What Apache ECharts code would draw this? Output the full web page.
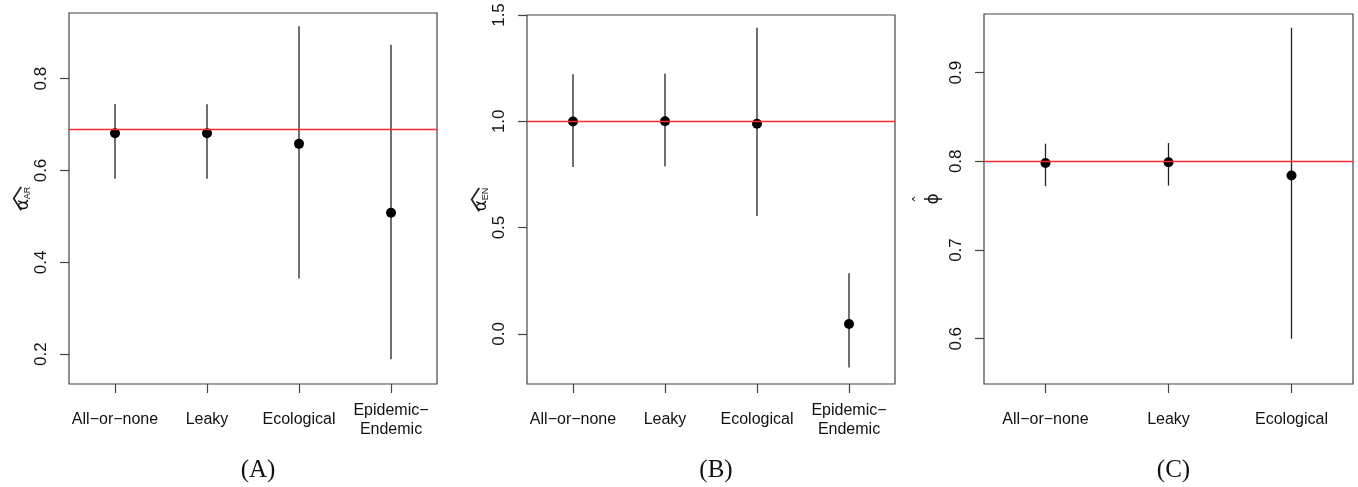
<!DOCTYPE html>
<html>
<head>
<meta charset="utf-8">
<script src="https://cdn.jsdelivr.net/npm/echarts@6/dist/echarts.min.js"></script>
<style>
  html, body { margin: 0; padding: 0; background: #fff; }
  #main { width: 1358px; height: 487px; }
</style>
</head>
<body>
<div id="main"></div>
<script>
// panel A: alpha_AR
var catsA = ['All\u2212or\u2212none', 'Leaky', 'Ecological', 'Epidemic\u2212\nEndemic'];
var estA = [0.681, 0.681, 0.658, 0.508];
var lowA = [0.582, 0.582, 0.365, 0.189];
var highA = [0.745, 0.744, 0.914, 0.874];
var trueA = 0.693;
var ticksA = [0.2, 0.4, 0.6, 0.8];

// panel B: alpha_EN
var catsB = ['All\u2212or\u2212none', 'Leaky', 'Ecological', 'Epidemic\u2212\nEndemic'];
var estB = [0.999, 1.0, 0.988, 0.046];
var lowB = [0.785, 0.788, 0.554, -0.158];
var highB = [1.221, 1.224, 1.44, 0.285];
var trueB = 1.0;
var ticksB = [0.0, 0.5, 1.0, 1.5];

// panel C: phi
var catsC = ['All\u2212or\u2212none', 'Leaky', 'Ecological'];
var estC = [0.798, 0.799, 0.784];
var lowC = [0.772, 0.7726, 0.6];
var highC = [0.8198, 0.8206, 0.9506];
var trueC = 0.8;
var ticksC = [0.6, 0.7, 0.8, 0.9];

var chart = echarts.init(document.getElementById('main'));

var FONT = '"Liberation Sans", Arial, sans-serif';
var INK = '#222';

var grids = [
  { left: 69, right: 921, top: 13, bottom: 103 },
  { left: 527, right: 463, top: 15, bottom: 103 },
  { left: 984, right: 5, top: 14, bottom: 103 }
];

var panels = [
  { cats: catsA, est: estA, low: lowA, high: highA, ref: trueA, ticks: ticksA, min: 0.135, max: 0.943,
    name: '{h|\ufe3f}\n{a|\u03b1}{s|AR}', nameGap: 34 },
  { cats: catsB, est: estB, low: lowB, high: highB, ref: trueB, ticks: ticksB, min: -0.236, max: 1.5,
    name: '{h|\ufe3f}\n{a|\u03b1}{s|EN}', nameGap: 30 },
  { cats: catsC, est: estC, low: lowC, high: highC, ref: trueC, ticks: ticksC, min: 0.549, max: 0.966,
    name: '{k|\u02c6}\n{a|\u03d5}', nameGap: 42 }
];

function errorBar(params, api) {
  var i = api.value(0);
  var p1 = api.coord([i, api.value(1)]);
  var p2 = api.coord([i, api.value(2)]);
  return {
    type: 'line',
    shape: { x1: p1[0], y1: p1[1], x2: p2[0], y2: p2[1] },
    style: { stroke: INK, lineWidth: 1.3 }
  };
}

var xAxes = [], yAxes = [], series = [], titles = [];
panels.forEach(function (p, k) {
  xAxes.push({
    type: 'category',
    gridIndex: k,
    data: p.cats,
    boundaryGap: true,
    axisLine: { show: false, onZero: false },
    axisTick: { show: true, alignWithLabel: true, length: 9, inside: false, lineStyle: { color: '#444', width: 1.2 } },
    axisLabel: { color: '#111', fontFamily: FONT, fontSize: 16, margin: 36, verticalAlign: 'middle', lineHeight: 19, interval: 0 },
    splitLine: { show: false }
  });
  yAxes.push({
    type: 'value',
    gridIndex: k,
    min: p.min,
    max: p.max,
    axisLine: { show: false, onZero: false },
    axisTick: { show: true, length: 9, customValues: p.ticks, lineStyle: { color: '#444', width: 1.2 } },
    axisLabel: {
      customValues: p.ticks,
      rotate: 90,
      margin: 19,
      color: '#111',
      fontFamily: FONT,
      fontSize: 17,
      formatter: function (v) { return Number(v).toFixed(1); }
    },
    splitLine: { show: false },
    name: p.name,
    nameLocation: 'middle',
    nameGap: p.nameGap,
    nameRotate: 90,
    nameTextStyle: {
      align: 'center',
      rich: {
        h: { fontSize: 26, lineHeight: 9, color: '#222', fontFamily: '"Noto Sans CJK SC", "DejaVu Sans"', align: 'center' },
        k: { fontSize: 16, lineHeight: 8, color: '#222', fontFamily: '"DejaVu Sans", sans-serif', align: 'center' },
        a: { fontSize: 17, color: '#111', fontFamily: '"DejaVu Sans", sans-serif', verticalAlign: 'bottom' },
        s: { fontSize: 9, color: '#111', fontFamily: FONT, verticalAlign: 'bottom', padding: [6, 0, 0, 0] }
      }
    }
  });
  series.push({
    type: 'custom',
    xAxisIndex: k,
    yAxisIndex: k,
    renderItem: errorBar,
    data: p.cats.map(function (c, i) { return [i, p.low[i], p.high[i]]; }),
    silent: true,
    z: 2,
    markLine: {
      silent: true,
      symbol: ['none', 'none'],
      label: { show: false },
      lineStyle: { color: '#ff2a2a', width: 1.3, type: 'solid' },
      data: [{ yAxis: p.ref }]
    }
  });
  series.push({
    type: 'scatter',
    xAxisIndex: k,
    yAxisIndex: k,
    symbol: 'circle',
    symbolSize: 10,
    itemStyle: { color: '#000', opacity: 1 },
    data: p.cats.map(function (c, i) { return [i, p.est[i]]; }),
    silent: true,
    z: 4
  });
  var g = grids[k];
  var cx = g.left + (1358 - g.left - g.right) / 2;
  titles.push({
    text: '(' + 'ABC'[k] + ')',
    left: cx,
    top: 453,
    textAlign: 'center',
    textStyle: { fontFamily: '"Liberation Serif", "Times New Roman", serif', fontSize: 25, fontWeight: 'normal', color: '#111' }
  });
});

chart.setOption({
  animation: false,
  backgroundColor: '#fff',
  title: titles,
  grid: grids.map(function (g) {
    return Object.assign({ show: true, borderColor: '#444', borderWidth: 1.2, backgroundColor: 'transparent',
      containLabel: false, outerBoundsMode: 'none' }, g);
  }),
  xAxis: xAxes,
  yAxis: yAxes,
  series: series
});
</script>
</body>
</html>
